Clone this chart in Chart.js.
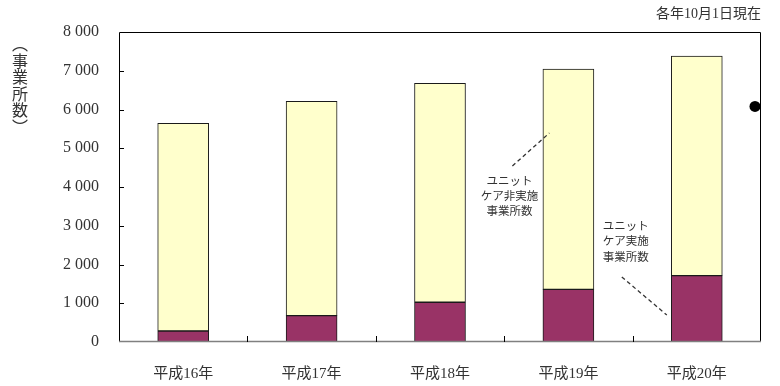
<!DOCTYPE html>
<html>
<head>
<meta charset="utf-8">
<script src="https://cdn.jsdelivr.net/npm/chart.js@4"></script>
<style>
  html, body { margin: 0; padding: 0; background: #fff; }
  #wrap { width: 780px; height: 386px; }
</style>
</head>
<body>
<div id="wrap"><canvas id="unitChart" width="780" height="386"></canvas></div>
<script>
// data
const categories = ['平成16年', '平成17年', '平成18年', '平成19年', '平成20年'];
const unitCare = [284, 680, 1025, 1360, 1711];          // ユニットケア実施事業所数
const nonUnitCare = [5360, 5532, 5651, 5685, 5669];     // ユニットケア非実施事業所数
const yMax = 8000;
const yStep = 1000;
const yTitle = ['︵', '事', '業', '所', '数', '︶'];
const dateNote = '各年10月1日現在';
const noteNonUnit = ['ユニット', 'ケア非実施', '事業所数'];
const noteUnit = ['ユニット', 'ケア実施', '事業所数'];

const numFont = '"Liberation Serif", "Noto Sans CJK JP", serif';
const textColor = '#333333';

function fmt(v) {
    return String(v).replace(/\B(?=(\d{3})+(?!\d))/g, ' ');
}

// frame, inner ticks, notes and dashed leaders
const extras = {
    id: 'extras',
    afterDraw(chart) {
        const c = chart.ctx;
        const a = chart.chartArea;
        const xs = chart.scales.x;
        const ys = chart.scales.y;
        c.save();

        // frame
        c.lineWidth = 1;
        c.strokeStyle = '#000';
        c.beginPath();
        c.moveTo(a.left + 0.5, a.bottom);
        c.lineTo(a.left + 0.5, a.top + 0.5);
        c.lineTo(a.right - 0.5, a.top + 0.5);
        c.lineTo(a.right - 0.5, a.bottom);
        c.stroke();
        c.strokeStyle = '#808080';
        c.lineWidth = 1.5;
        c.beginPath();
        c.moveTo(a.left, a.bottom - 0.5);
        c.lineTo(a.right, a.bottom - 0.5);
        c.stroke();

        // inner ticks
        c.lineWidth = 1;
        c.strokeStyle = '#000';
        c.beginPath();
        for (let v = yStep; v < yMax; v += yStep) {
            const y = Math.round(ys.getPixelForValue(v)) + 0.5;
            c.moveTo(a.left, y);
            c.lineTo(a.left + 5, y);
        }
        const w = (a.right - a.left) / categories.length;
        for (let k = 1; k < categories.length; k++) {
            const x = Math.round(a.left + w * k) + 0.5;
            c.moveTo(x, a.bottom);
            c.lineTo(x, a.bottom - 6);
        }
        c.stroke();

        // y title, vertical
        c.fillStyle = textColor;
        c.font = '16px "Noto Sans CJK JP"';
        c.textAlign = 'center';
        c.textBaseline = 'middle';
        yTitle.forEach((ch, i) => c.fillText(ch, 20, 44 + i * 16.6));

        // date note
        c.font = '14px ' + numFont;
        c.textAlign = 'right';
        c.fillText(dateNote, a.right, 14);

        // annotations
        c.font = '11.5px "Noto Sans CJK JP"';
        c.textAlign = 'center';
        const c4 = xs.getPixelForValue(3);
        const c5 = xs.getPixelForValue(4);
        [4155, 3768, 3381].forEach((v, i) => c.fillText(noteNonUnit[i], c4 - 59, ys.getPixelForValue(v)));
        [2994, 2606, 2194].forEach((v, i) => c.fillText(noteUnit[i], c5 - 71, ys.getPixelForValue(v)));

        c.strokeStyle = '#333';
        c.lineWidth = 1.3;
        c.setLineDash([4, 3]);
        c.beginPath();
        c.moveTo(c4 - 56, ys.getPixelForValue(4542));
        c.lineTo(c4 - 19, ys.getPixelForValue(5394));
        c.moveTo(c5 - 75, ys.getPixelForValue(1677));
        c.lineTo(c5 - 30, ys.getPixelForValue(697));
        c.stroke();
        c.setLineDash([]);

        // stray dot on the right border
        c.fillStyle = '#000';
        c.beginPath();
        c.arc(a.right - 6, ys.getPixelForValue(6080), 5.5, 0, Math.PI * 2);
        c.fill();

        c.restore();
    }
};

const ctx = document.getElementById('unitChart').getContext('2d');

const unitChart = new Chart(ctx, {
    type: 'bar',
    data: {
        labels: categories,
        datasets: [
            { label: 'ユニットケア実施事業所数', data: unitCare, backgroundColor: '#993366', borderColor: '#1a1a1a', borderWidth: 1, borderSkipped: false, barThickness: 51 },
            { label: 'ユニットケア非実施事業所数', data: nonUnitCare, backgroundColor: '#ffffcc', borderColor: '#1a1a1a', borderWidth: 1, borderSkipped: false, barThickness: 51 }
        ]
    },
    options: {
        responsive: false,
        animation: false,
        layout: { padding: { top: 32, right: 19, left: 0, bottom: 0 } },
        plugins: {
            legend: { display: false },
            tooltip: { enabled: false }
        },
        scales: {
            x: {
                stacked: true,
                grid: { display: false },
                border: { display: false },
                ticks: { color: textColor, font: { family: numFont, size: 15 }, padding: 15, maxRotation: 0 },
                afterFit: (s) => { s.height = 44; }
            },
            y: {
                stacked: true,
                min: 0, max: yMax,
                grid: { display: false },
                border: { display: false },
                ticks: { stepSize: yStep, color: textColor, font: { family: numFont, size: 16 }, padding: 12, callback: (v) => fmt(v) },
                afterFit: (s) => { s.width = 119; }
            }
        }
    },
    plugins: [extras]
});
</script>
</body>
</html>
